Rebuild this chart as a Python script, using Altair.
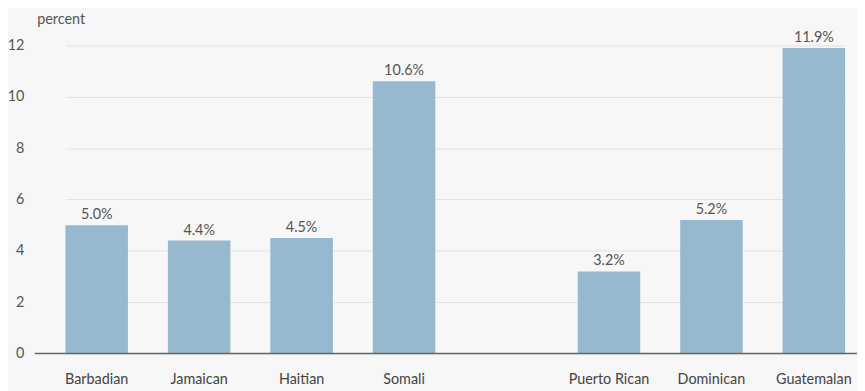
import altair as alt
import pandas as pd

categories = ["Barbadian", "Jamaican", "Haitian", "Somali", " ", "Puerto Rican", "Dominican", "Guatemalan"]
values = [5.0, 4.4, 4.5, 10.6, None, 3.2, 5.2, 11.9]
y_ticks = [0, 2, 4, 6, 8, 10, 12]

df = pd.DataFrame({"group": categories, "value": values})
df["label"] = [f"{v:.1f}%" if v is not None and v == v else "" for v in values]
df = df.dropna(subset=["value"])

W, H = 830, 324
FONT = "Lato"
FS = 14.5
x = alt.X("group:N", sort=categories,
          scale=alt.Scale(domain=categories, range=[31, 818], paddingInner=0.39, paddingOuter=0,
                          round=False),
          axis=alt.Axis(title=None, labelAngle=0, ticks=False, domain=False,
                        labelPadding=19, labelFontSize=FS,
                        labelColor="#444444", labelFont=FONT, grid=False))
y = alt.Y("value:Q", scale=alt.Scale(domain=[0, 12.5], nice=False),
          axis=alt.Axis(title="percent", titleAngle=0, titleAlign="left", titleX=2, titleY=-13,
                        titleBaseline="middle", titleFontWeight="normal", titleFontSize=FS,
                        titleColor="#555555", titleFont=FONT,
                        values=y_ticks, ticks=False, domain=False, labelPadding=11,
                        labelFontSize=FS, labelColor="#555555", labelFont=FONT,
                        gridColor="#e2e2e2", gridWidth=1))

bars = alt.Chart(df).mark_bar(color="#97b9d0").encode(x=x, y=y)
text = alt.Chart(df).mark_text(baseline="bottom", dy=-3, fontSize=FS, color="#555555",
                               font=FONT).encode(x=x, y=y, text="label:N")
zero = alt.Chart(pd.DataFrame({"v": [0]})).mark_rule(color="#666666", strokeWidth=1.5).encode(
    y=alt.Y("v:Q"), x=alt.value(0), x2=alt.value(W))

chart = (bars + text + zero).properties(
    width=W, height=H,
    background="#f7f7f7",
    autosize=alt.AutoSizeParams(type="none"),
    padding={"left": 27, "top": 23, "right": 0, "bottom": 36},
).configure_view(stroke=None)

chart.save("out.html", embed_options={"renderer": "svg", "actions": False})
